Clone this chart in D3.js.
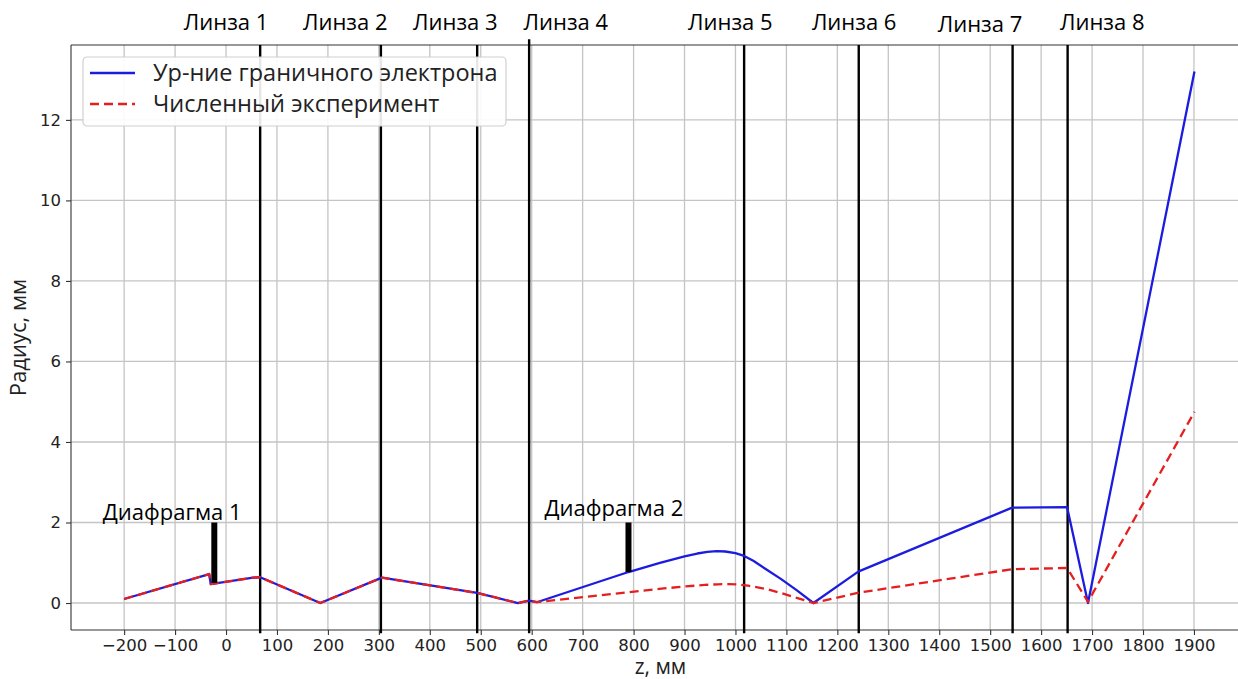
<!DOCTYPE html>
<html>
<head>
<meta charset="utf-8">
<script src="https://cdn.jsdelivr.net/npm/d3@7"></script>
<style>
  html, body { margin: 0; padding: 0; background: #fff; }
  svg { display: block; }
</style>
</head>
<body>
<div id="chart"></div>
<script>
// boundary-electron equation (blue) and numerical experiment (red), z in mm, r in mm
var blueZ = [-200, -33, -30, 53, 67, 185, 306, 493, 573, 595, 610, 790, 850, 900, 925, 945, 963, 980, 1000, 1017, 1035, 1060, 1089, 1120, 1153, 1241, 1543, 1651, 1692, 1901];
var blueR = [0.10, 0.72, 0.47, 0.63, 0.64, 0.00, 0.63, 0.25, 0.00, 0.06, 0.02, 0.77, 0.99, 1.16, 1.23, 1.27, 1.29, 1.28, 1.24, 1.17, 1.05, 0.84, 0.60, 0.32, 0.00, 0.78, 2.37, 2.38, 0.00, 13.20];

var redZ = [-200, -33, -30, 53, 67, 185, 306, 493, 573, 595, 610, 790, 850, 900, 940, 965, 985, 1005, 1025, 1060, 1089, 1120, 1153, 1243, 1543, 1651, 1692, 1901];
var redR = [0.10, 0.72, 0.47, 0.63, 0.64, 0.00, 0.63, 0.25, 0.00, 0.06, 0.02, 0.27, 0.35, 0.41, 0.45, 0.465, 0.47, 0.46, 0.43, 0.35, 0.25, 0.13, 0.00, 0.26, 0.84, 0.87, 0.03, 4.75];

// lenses
var lensNames = ["Линза 1", "Линза 2", "Линза 3", "Линза 4", "Линза 5", "Линза 6", "Линза 7", "Линза 8"];
var lensZ = [67, 304, 493, 595, 1017, 1242, 1544, 1652];
var lensTopR = [13.86, 13.86, 13.86, 14.0, 13.86, 13.86, 13.86, 13.86];
var lensLabelZ = [0, 234, 450, 667, 990, 1233, 1480, 1720];
var lensLabelR = [14.24, 14.24, 14.24, 14.24, 14.24, 14.24, 14.18, 14.24];

// diaphragms
var diaNames = ["Диафрагма 1", "Диафрагма 2"];
var diaZ = [-23, 790];
var diaR0 = [0.50, 0.77];
var diaR1 = [2.0, 2.0];
var diaLabelZ = [-242, 625];
var diaLabelR = [2.06, 2.16];

var xTicks = d3.range(-200, 2000, 100);
var yTicks = [0, 2, 4, 6, 8, 10, 12];

var legendNames = ["Ур-ние граничного электрона", "Численный эксперимент"];

var W = 1238, H = 679;
var mLeft = 71, mTop = 45, mBottom = 630, mRight = 1250;

var svg = d3.select("#chart").append("svg")
    .attr("width", W).attr("height", H)
    .style("font-family", "'Open Sans', 'DejaVu Sans', sans-serif");

var x = d3.scaleLinear().domain([-304.3, 2010]).range([mLeft, mRight]);
var y = d3.scaleLinear().domain([-0.67, 13.86]).range([mBottom, mTop]);

svg.append("defs").append("clipPath").attr("id", "plotclip")
    .append("rect").attr("x", mLeft).attr("y", mTop - 8)
    .attr("width", mRight - mLeft).attr("height", mBottom - mTop + 12);

/* grid */
var grid = svg.append("g");
grid.selectAll("line.gx").data(xTicks).enter().append("line").attr("class", "gx")
    .attr("x1", d => x(d)).attr("x2", d => x(d))
    .attr("y1", mTop).attr("y2", mBottom)
    .attr("stroke", "#c4c4c4").attr("stroke-width", 1.3);
grid.selectAll("line.gy").data(yTicks).enter().append("line").attr("class", "gy")
    .attr("x1", mLeft).attr("x2", mRight)
    .attr("y1", d => y(d)).attr("y2", d => y(d))
    .attr("stroke", "#c4c4c4").attr("stroke-width", 1.3);

/* axes */
var xAxis = svg.append("g").attr("transform", "translate(0," + mBottom + ")")
    .call(d3.axisBottom(x).tickValues(xTicks).tickSize(5).tickPadding(4)
        .tickFormat(d => (d < 0 ? "\u2212" + Math.abs(d) : "" + d)));
var yAxis = svg.append("g").attr("transform", "translate(" + mLeft + ",0)")
    .call(d3.axisLeft(y).tickValues(yTicks).tickSize(5).tickPadding(5));
[xAxis, yAxis].forEach(function (a) {
    a.select(".domain").remove();
    a.selectAll(".tick line").attr("stroke", "#333").attr("stroke-width", 1.1);
    a.selectAll(".tick text").attr("fill", "#222")
        .style("font-family", "'DejaVu Sans', sans-serif").style("font-size", "16.5px");
});

/* spines */
svg.append("line").attr("x1", mLeft).attr("x2", mLeft).attr("y1", mTop).attr("y2", mBottom)
    .attr("stroke", "#333").attr("stroke-width", 1.1);
svg.append("line").attr("x1", mLeft).attr("x2", mRight).attr("y1", mBottom).attr("y2", mBottom)
    .attr("stroke", "#333").attr("stroke-width", 1.1);
svg.append("line").attr("x1", mLeft).attr("x2", mRight).attr("y1", mTop).attr("y2", mTop)
    .attr("stroke", "#333").attr("stroke-width", 1.1);

/* lens lines */
var lenses = svg.append("g");
lenses.selectAll("line").data(lensZ).enter().append("line")
    .attr("x1", d => x(d)).attr("x2", d => x(d))
    .attr("y1", (d, i) => y(lensTopR[i])).attr("y2", y(-0.75))
    .attr("stroke", "#000").attr("stroke-width", 2.4);

/* curves */
var line = d3.line().x(d => x(d[0])).y(d => y(d[1]));
var blueData = d3.zip(blueZ, blueR);
var redData = d3.zip(redZ, redR);
var curves = svg.append("g").attr("clip-path", "url(#plotclip)");
curves.append("path").datum(blueData).attr("d", line)
    .attr("fill", "none").attr("stroke", "#1c1ce0").attr("stroke-width", 2.3)
    .attr("stroke-linejoin", "round");
curves.append("path").datum(redData).attr("d", line)
    .attr("fill", "none").attr("stroke", "#e41f1f").attr("stroke-width", 2.3)
    .attr("stroke-dasharray", "9,5").attr("stroke-linejoin", "round");

/* diaphragms */
var dia = svg.append("g");
dia.selectAll("line").data(diaZ).enter().append("line")
    .attr("x1", d => x(d)).attr("x2", d => x(d))
    .attr("y1", (d, i) => y(diaR0[i])).attr("y2", (d, i) => y(diaR1[i]))
    .attr("stroke", "#000").attr("stroke-width", 6);
dia.selectAll("text").data(diaNames).enter().append("text")
    .attr("x", (d, i) => x(diaLabelZ[i])).attr("y", (d, i) => y(diaLabelR[i]))
    .attr("text-anchor", "start").style("font-size", "22px").attr("fill", "#000")
    .text(d => d);

/* lens labels */
svg.append("g").selectAll("text").data(lensNames).enter().append("text")
    .attr("x", (d, i) => x(lensLabelZ[i])).attr("y", (d, i) => y(lensLabelR[i]))
    .attr("text-anchor", "middle").style("font-size", "22px").attr("fill", "#000")
    .text(d => d);

/* legend */
var lg = svg.append("g").attr("transform", "translate(83,57)");
lg.append("rect").attr("width", 423).attr("height", 69).attr("rx", 4)
    .attr("fill", "#fff").attr("fill-opacity", 0.9)
    .attr("stroke", "#d0d0d0").attr("stroke-width", 1.2);
var lgStyle = [{ c: "#1c1ce0", dash: null }, { c: "#e41f1f", dash: "9,5" }];
legendNames.forEach(function (name, i) {
    var yy = 16 + i * 31;
    lg.append("line").attr("x1", 7).attr("x2", 52).attr("y1", yy).attr("y2", yy)
        .attr("stroke", lgStyle[i].c).attr("stroke-width", 2.3)
        .attr("stroke-dasharray", lgStyle[i].dash);
    lg.append("text").attr("x", 70).attr("y", yy + 8)
        .style("font-size", "23.5px").attr("fill", "#222").text(name);
});

/* axis titles */
svg.append("text").attr("x", (mLeft + mRight) / 2).attr("y", 674)
    .attr("text-anchor", "middle").style("font-size", "21px").attr("fill", "#222")
    .text("z, мм");
svg.append("text")
    .attr("transform", "translate(26," + ((mTop + mBottom) / 2) + ") rotate(-90)")
    .attr("text-anchor", "middle").style("font-size", "22px").attr("fill", "#222")
    .text("Радиус, мм");
</script>
</body>
</html>
